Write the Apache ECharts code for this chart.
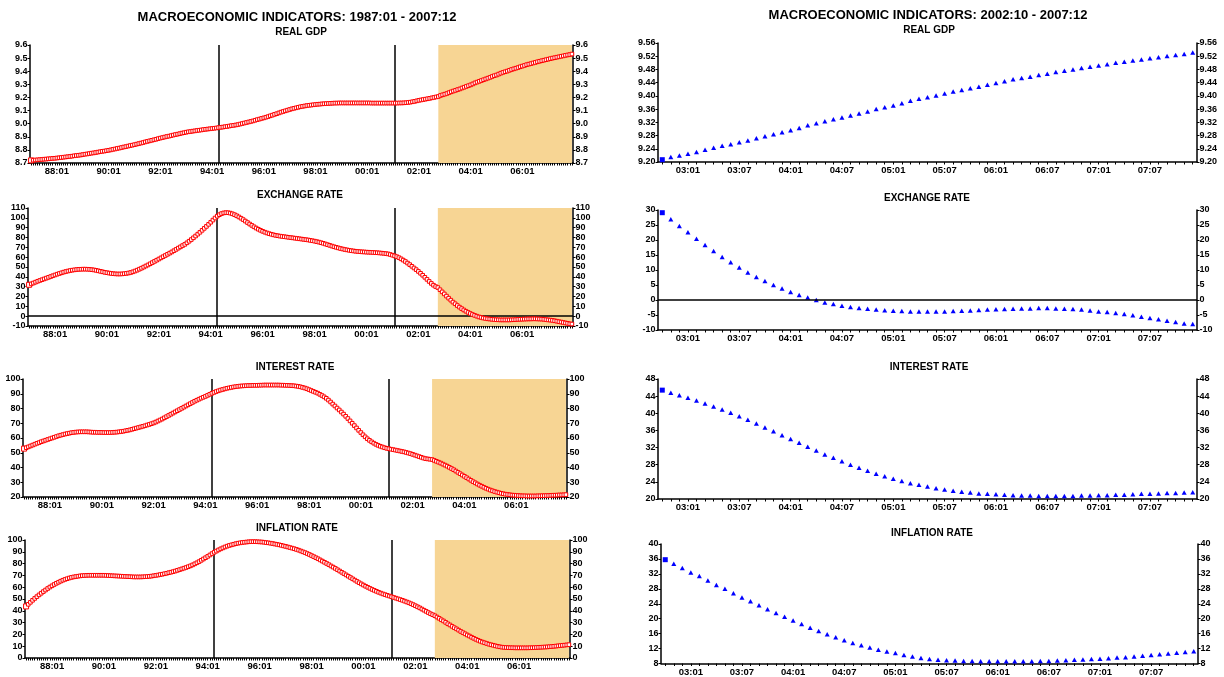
<!DOCTYPE html>
<html><head><meta charset="utf-8">
<script src="https://cdn.jsdelivr.net/npm/echarts@6/dist/echarts.min.js"></script>
<style>html,body{margin:0;padding:0;background:#fff}#c{width:1224px;height:677px}</style>
</head><body><div id="c"></div>
<script>
// ---------------- DATA ----------------
// monthly categories 1987:01 .. 2007:12 (labels YY:MM)
const startYear = 1987, endYear = 2007;
const monthsAll = [];
for (let y = startYear; y <= endYear; y++) for (let m = 1; m <= 12; m++)
  monthsAll.push(String(y % 100).padStart(2, '0') + ':' + String(m).padStart(2, '0'));
const recentStart = '02:10';
const monthsRecent = monthsAll.slice(monthsAll.indexOf(recentStart));

const leftTickLabels = ['88:01','90:01','92:01','94:01','96:01','98:01','00:01','02:01','04:01','06:01'];
const rightTickLabels = ['03:01','03:07','04:01','04:07','05:01','05:07','06:01','06:07','07:01','07:07'];
const vLineMonths = ['94:04', '01:02'];
const shadeFrom = '02:10', shadeTo = '07:12';

// REAL GDP 1987:01 - 2002:09
const gdpEarly = [
8.720,8.721,8.723,8.724,8.726,8.727,8.729,8.730,8.732,8.733,8.735,8.736,
8.738,8.740,8.742,8.744,8.746,8.748,8.750,8.752,8.755,8.757,8.759,8.761,
8.764,8.767,8.769,8.772,8.775,8.777,8.780,8.783,8.786,8.789,8.791,8.794,
8.797,8.800,8.804,8.807,8.811,8.814,8.818,8.822,8.825,8.829,8.833,8.836,
8.840,8.844,8.848,8.852,8.856,8.861,8.865,8.869,8.873,8.877,8.881,8.886,
8.890,8.894,8.898,8.902,8.905,8.909,8.913,8.917,8.920,8.924,8.928,8.931,
8.935,8.938,8.940,8.943,8.945,8.948,8.950,8.952,8.955,8.957,8.959,8.961,
8.963,8.965,8.967,8.970,8.972,8.974,8.977,8.979,8.982,8.985,8.987,8.990,
8.993,8.997,9.001,9.005,9.009,9.013,9.017,9.021,9.026,9.031,9.035,9.040,
9.044,9.049,9.054,9.060,9.065,9.071,9.076,9.082,9.088,9.093,9.098,9.103,
9.108,9.113,9.117,9.121,9.125,9.129,9.132,9.135,9.138,9.140,9.142,9.144,
9.146,9.148,9.149,9.151,9.152,9.153,9.154,9.155,9.156,9.157,9.157,9.158,
9.158,9.158,9.158,9.158,9.158,9.158,9.158,9.158,9.158,9.158,9.158,9.158,
9.158,9.158,9.157,9.157,9.157,9.157,9.157,9.157,9.157,9.157,9.157,9.157,
9.157,9.157,9.157,9.158,9.158,9.159,9.160,9.162,9.164,9.167,9.170,9.174,
9.178,9.181,9.184,9.187,9.190,9.193,9.197,9.200,9.204];
// REAL GDP 2002:10 - 2007:12
const gdpRecent = [
9.207,9.215,9.220,
9.225,9.230,9.237,9.243,9.249,9.254,9.260,9.265,9.272,9.278,9.284,9.290,
9.296,9.303,9.311,9.317,9.323,9.329,9.335,9.341,9.347,9.353,9.360,9.366,
9.371,9.378,9.385,9.391,9.396,9.401,9.407,9.413,9.418,9.423,9.428,9.434,
9.439,9.444,9.450,9.454,9.458,9.463,9.467,9.472,9.476,9.480,9.484,9.488,
9.492,9.496,9.500,9.503,9.507,9.510,9.514,9.517,9.521,9.524,9.527,9.531];

// EXCHANGE RATE
const exchEarly = [
31.9,32.8,33.7,34.6,35.5,36.3,37.1,37.9,38.7,39.5,40.3,41.1,
41.9,42.7,43.4,44.1,44.8,45.4,45.9,46.4,46.8,47.1,47.4,47.6,
47.7,47.8,47.8,47.7,47.6,47.3,47.0,46.6,46.1,45.6,45.1,44.6,
44.2,43.8,43.5,43.2,43.0,42.9,42.9,43.0,43.2,43.5,43.9,44.4,
45.1,45.9,46.8,47.8,48.8,49.9,51.0,52.1,53.3,54.5,55.7,56.9,
58.1,59.3,60.5,61.7,62.9,64.1,65.3,66.6,67.9,69.2,70.5,71.8,
73.0,74.6,76.2,77.9,79.7,81.5,83.4,85.3,87.3,89.3,91.3,93.4,
95.5,97.7,99.8,101.7,103.2,104.3,105.0,105.3,105.2,104.8,104.1,103.2,
102.1,100.9,99.6,98.2,96.7,95.2,93.7,92.3,90.9,89.6,88.4,87.3,
86.3,85.4,84.6,83.9,83.3,82.7,82.2,81.8,81.4,81.1,80.8,80.5,
80.2,79.9,79.6,79.3,79.0,78.7,78.4,78.1,77.8,77.5,77.1,76.7,
76.3,75.8,75.3,74.7,74.1,73.4,72.7,72.0,71.3,70.6,70.0,69.4,
68.8,68.3,67.8,67.4,67.0,66.6,66.3,66.0,65.8,65.6,65.4,65.3,
65.1,65.0,64.9,64.8,64.6,64.5,64.3,64.1,63.9,63.6,63.3,62.7,
62.0,61.3,60.5,59.5,58.3,57.0,55.6,54.0,52.4,50.7,49.0,47.3,
45.5,43.6,41.6,39.5,37.4,35.3,33.3,31.5,30.1];
const exchRecent = [
29.1,26.9,24.7,
22.6,20.4,18.3,16.3,14.3,12.6,10.8,9.2,7.7,6.3,5.0,3.8,
2.7,1.7,0.8,0.0,-0.8,-1.3,-1.9,-2.3,-2.7,-2.9,-3.2,-3.4,
-3.6,-3.7,-3.8,-3.8,-3.8,-3.8,-3.8,-3.7,-3.6,-3.5,-3.3,-3.2,
-3.1,-3.0,-2.9,-2.8,-2.8,-2.7,-2.7,-2.8,-2.9,-3.0,-3.2,-3.5,
-3.8,-4.0,-4.3,-4.7,-5.1,-5.6,-6.0,-6.4,-6.9,-7.3,-7.8,-8.0];

// INTEREST RATE
const interestEarly = [
52.8,53.4,54.0,54.6,55.2,55.8,56.4,56.9,57.5,58.0,58.5,59.0,
59.5,60.0,60.5,61.0,61.5,61.9,62.3,62.7,63.0,63.3,63.6,63.8,
64.0,64.1,64.2,64.2,64.2,64.2,64.1,64.0,63.9,63.9,63.8,63.8,
63.8,63.7,63.7,63.7,63.7,63.8,63.9,64.0,64.2,64.4,64.6,64.9,
65.2,65.5,65.9,66.3,66.7,67.1,67.5,67.9,68.3,68.8,69.2,69.7,
70.2,70.8,71.5,72.2,72.9,73.7,74.5,75.3,76.1,76.9,77.7,78.5,
79.3,80.1,80.9,81.7,82.5,83.3,84.1,84.9,85.6,86.3,87.0,87.6,
88.2,88.9,89.6,90.3,90.9,91.5,92.0,92.5,92.9,93.3,93.7,94.0,
94.3,94.6,94.8,95.0,95.2,95.3,95.4,95.5,95.6,95.6,95.7,95.7,
95.7,95.8,95.8,95.9,95.9,95.9,95.9,95.9,95.9,95.9,95.9,95.8,
95.8,95.7,95.7,95.6,95.5,95.4,95.2,95.0,94.7,94.3,93.9,93.4,
92.8,92.2,91.6,91.0,90.4,89.6,88.8,87.9,86.9,85.7,84.4,83.0,
81.7,80.3,79.0,77.6,76.2,74.7,73.2,71.6,70.0,68.4,66.8,65.2,
63.7,62.2,60.8,59.5,58.4,57.4,56.5,55.7,55.0,54.4,53.9,53.4,
53.0,52.7,52.4,52.1,51.8,51.5,51.2,50.9,50.6,50.2,49.8,49.4,
48.9,48.4,47.9,47.4,46.9,46.4,46.0,45.8,45.6];
const interestRecent = [
45.4,44.8,44.2,
43.6,43.0,42.3,41.6,40.9,40.1,39.3,38.5,37.6,36.7,35.8,34.9,
34.0,33.1,32.2,31.3,30.4,29.6,28.8,28.0,27.3,26.6,25.9,25.3,
24.7,24.2,23.7,23.3,22.9,22.5,22.2,21.9,21.7,21.5,21.3,21.2,
21.1,21.0,20.9,20.8,20.8,20.7,20.7,20.7,20.7,20.7,20.8,20.8,
20.9,20.9,21.0,21.0,21.1,21.2,21.2,21.3,21.4,21.4,21.5,21.6];

// INFLATION RATE
const inflationEarly = [
43.7,45.5,47.2,48.9,50.5,52.0,53.5,54.9,56.3,57.6,58.9,60.1,
61.2,62.3,63.3,64.2,65.1,65.9,66.6,67.2,67.8,68.3,68.7,69.0,
69.3,69.6,69.8,69.9,70.0,70.1,70.1,70.1,70.1,70.1,70.1,70.1,
70.1,70.0,69.9,69.8,69.7,69.6,69.5,69.4,69.3,69.2,69.1,69.0,
68.9,68.8,68.7,68.7,68.7,68.7,68.8,68.9,69.0,69.2,69.4,69.7,
70.0,70.3,70.7,71.0,71.4,71.8,72.3,72.7,73.2,73.7,74.3,74.9,
75.5,76.1,76.7,77.4,78.1,78.9,79.8,80.7,81.7,82.8,83.9,85.0,
86.1,87.3,88.5,89.6,90.6,91.6,92.5,93.3,94.1,94.8,95.4,95.9,
96.4,96.9,97.3,97.6,97.9,98.1,98.3,98.5,98.6,98.6,98.6,98.5,
98.4,98.3,98.1,97.8,97.6,97.3,97.0,96.6,96.3,95.9,95.5,95.0,
94.6,94.1,93.6,93.1,92.6,92.0,91.4,90.7,90.0,89.3,88.5,87.7,
86.8,85.9,85.0,84.1,83.1,82.1,81.1,80.1,79.1,78.0,77.0,75.9,
74.8,73.7,72.6,71.5,70.4,69.3,68.2,67.1,66.0,64.9,63.8,62.8,
61.8,60.8,59.9,59.0,58.1,57.3,56.5,55.7,55.0,54.3,53.7,53.1,
52.5,51.9,51.3,50.7,50.1,49.5,48.9,48.2,47.5,46.8,46.0,45.2,
44.3,43.4,42.5,41.5,40.5,39.5,38.5,37.5,36.7];
const inflationRecent = [
35.8,34.7,33.6,
32.4,31.4,30.2,29.0,28.0,26.8,25.7,24.7,23.6,22.5,21.5,20.5,
19.5,18.6,17.6,16.7,15.8,15.0,14.2,13.5,12.9,12.3,11.7,11.2,
10.8,10.3,9.9,9.5,9.2,9.0,8.9,8.8,8.7,8.7,8.6,8.6,
8.6,8.6,8.6,8.6,8.6,8.7,8.7,8.8,8.9,9.0,9.1,9.2,
9.3,9.4,9.6,9.7,9.9,10.1,10.3,10.5,10.7,10.9,11.1,11.3];

const panelNames = ['REAL GDP', 'EXCHANGE RATE', 'INTEREST RATE', 'INFLATION RATE'];
const leftTitle = 'MACROECONOMIC INDICATORS: 1987:01 - 2007:12';
const rightTitle = 'MACROECONOMIC INDICATORS: 2002:10 - 2007:12';

// ---------------- CHART ----------------
const FONT = 'Arial, "Liberation Sans", Helvetica, sans-serif';
const SHADE = '#F7D594';
const early = [gdpEarly, exchEarly, interestEarly, inflationEarly];
const recent = [gdpRecent, exchRecent, interestRecent, inflationRecent];
// axis scales [min,max,interval,decimals]
const leftScales = [[8.7, 9.6, 0.1, 1], [-10, 110, 10, 0], [20, 100, 10, 0], [0, 100, 10, 0]];
const rightScales = [[9.20, 9.56, 0.04, 2], [-10, 30, 5, 0], [20, 48, 4, 0], [8, 40, 4, 0]];

const grids = [
  {left: 30, top: 45, width: 543, height: 118},
  {left: 28, top: 208, width: 545, height: 118},
  {left: 23, top: 379, width: 544, height: 118},
  {left: 25, top: 540, width: 545, height: 118},
  {left: 658, top: 43, width: 539, height: 119},
  {left: 658, top: 210, width: 539, height: 120},
  {left: 658, top: 379, width: 539, height: 120},
  {left: 661, top: 544, width: 537, height: 120}
];

function xAxisCfg(g, cats, labels) {
  return {
    type: 'category', gridIndex: g, data: cats, boundaryGap: true,
    axisLine: {onZero: false, lineStyle: {color: '#000', width: 1.5}},
    axisTick: {show: true, interval: 0, alignWithLabel: true, length: 2.5, lineStyle: {color: '#000', width: 1}},
    axisLabel: {interval: (i, v) => labels.includes(v), fontSize: 9.5, fontWeight: 'bold',
      color: '#000', fontFamily: FONT, margin: 3.5},
    splitLine: {show: false}
  };
}
function yAxisCfg(g, pos, sc) {
  return {
    type: 'value', gridIndex: g, position: pos, min: sc[0], max: sc[1], interval: sc[2],
    axisLine: {show: true, onZero: false, lineStyle: {color: '#000', width: 1.5}},
    axisTick: {show: true, length: 2.5, lineStyle: {color: '#000', width: 1}},
    axisLabel: {formatter: v => v.toFixed(sc[3]), fontSize: 9, fontWeight: 'bold',
      color: '#000', fontFamily: FONT, margin: 2.5},
    splitLine: {show: false}
  };
}

const xAxes = [], yAxes = [], series = [];
for (let i = 0; i < 4; i++) xAxes.push(xAxisCfg(i, monthsAll, leftTickLabels));
for (let i = 0; i < 4; i++) xAxes.push(xAxisCfg(4 + i, monthsRecent, rightTickLabels));
for (let i = 0; i < 4; i++) { yAxes.push(yAxisCfg(i, 'left', leftScales[i])); yAxes.push(yAxisCfg(i, 'right', leftScales[i])); }
for (let i = 0; i < 4; i++) { yAxes.push(yAxisCfg(4 + i, 'left', rightScales[i])); yAxes.push(yAxisCfg(4 + i, 'right', rightScales[i])); }

const lineStyleMark = {color: '#000', width: 1.5, type: 'solid'};
for (let i = 0; i < 4; i++) {
  const full = early[i].concat(recent[i]);
  const ml = vLineMonths.map(m => ({xAxis: m}));
  if (i === 1) ml.push({yAxis: 0});
  series.push({
    type: 'line', xAxisIndex: i, yAxisIndex: 2 * i,
    data: full.map((v, k) => k === 0 ? {value: v, symbolSize: 5} : v),
    symbol: 'rect', symbolSize: 3.6, showAllSymbol: true, z: 5,
    lineStyle: {width: 0, opacity: 0},
    itemStyle: {color: '#ffffff', borderColor: '#ff0000', borderWidth: 1},
    markArea: {silent: true, itemStyle: {color: SHADE}, data: [[{xAxis: shadeFrom}, {xAxis: shadeTo}]]},
    markLine: {silent: true, symbol: ['none', 'none'], label: {show: false}, lineStyle: lineStyleMark,
      emphasis: {disabled: true}, data: ml}
  });
}
for (let i = 0; i < 4; i++) {
  const s = {
    type: 'line', xAxisIndex: 4 + i, yAxisIndex: 8 + 2 * i,
    data: recent[i].map((v, k) => k === 0 ? {value: v, symbol: 'rect', symbolSize: 5} : v),
    symbol: 'triangle', symbolSize: [5, 4.5], showAllSymbol: true,
    lineStyle: {width: 0, opacity: 0},
    itemStyle: {color: '#0000ff'}
  };
  if (i === 1) s.markLine = {silent: true, symbol: ['none', 'none'], label: {show: false},
    lineStyle: lineStyleMark, emphasis: {disabled: true}, data: [{yAxis: 0}]};
  series.push(s);
}

function t(text, cx, cy, size) {
  return {text, left: cx, top: cy - size / 2, textAlign: 'center', padding: 0,
    textStyle: {fontSize: size, fontWeight: 'bold', color: '#000', fontFamily: FONT}};
}
const titles = [
  t(leftTitle, 297, 17, 13), t(rightTitle, 928, 15, 13),
  t(panelNames[0], 301, 32, 10), t(panelNames[1], 300, 195, 10),
  t(panelNames[2], 295, 367, 10), t(panelNames[3], 297, 528, 10),
  t(panelNames[0], 929, 30, 10), t(panelNames[1], 927, 198, 10),
  t(panelNames[2], 929, 367, 10), t(panelNames[3], 932, 533, 10)
];

const chart = echarts.init(document.getElementById('c'), null, {renderer: 'canvas'});
chart.setOption({
  animation: false, backgroundColor: '#fff',
  title: titles, grid: grids, xAxis: xAxes, yAxis: yAxes, series
});
</script></body></html>
